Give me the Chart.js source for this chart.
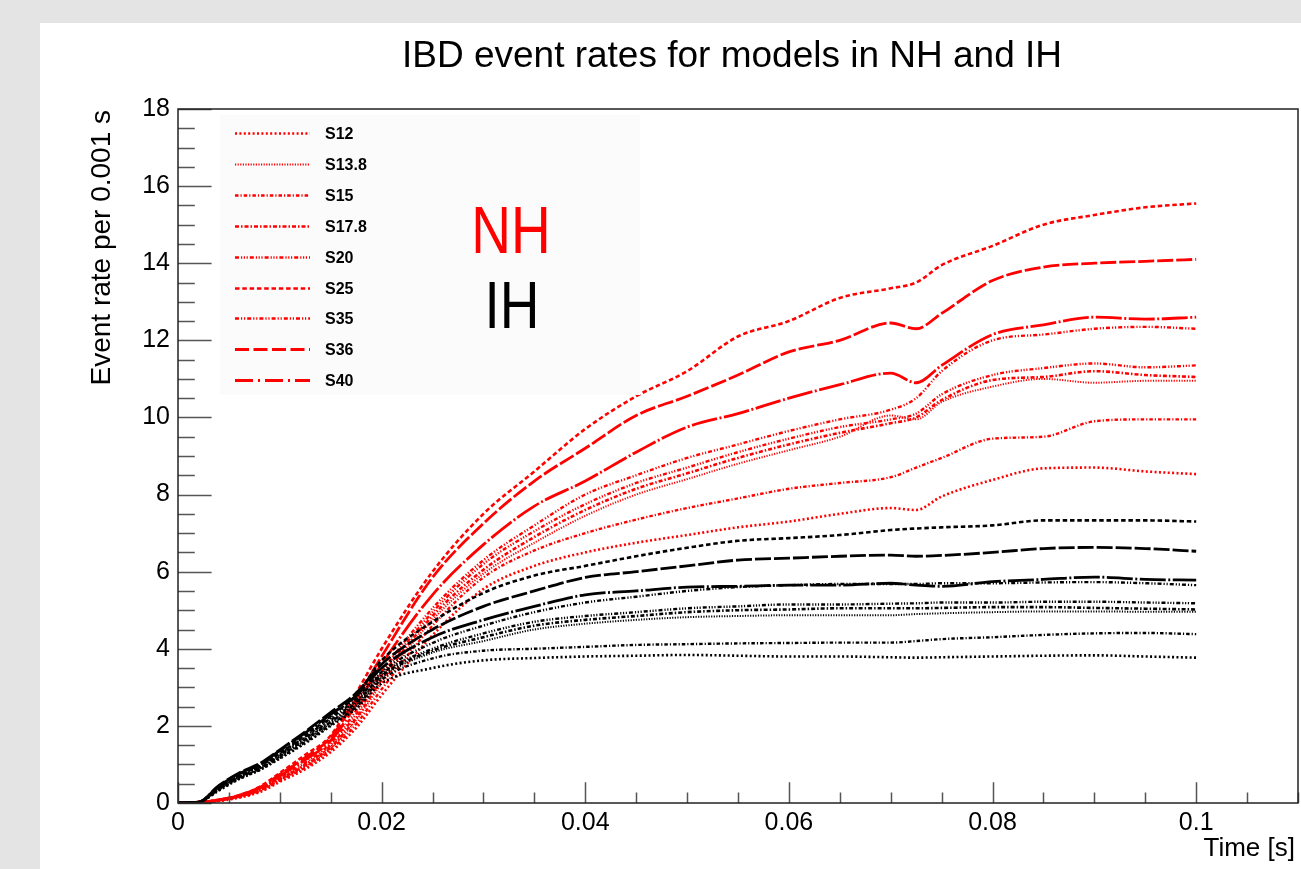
<!DOCTYPE html>
<html>
<head>
<meta charset="utf-8">
<script src="https://cdn.jsdelivr.net/npm/chart.js@4.4.0/dist/chart.umd.min.js"></script>
<style>
  html, body { margin: 0; padding: 0; background: #e4e4e4; }
  #wrap { position: absolute; left: 40px; top: 23px; width: 1261px; height: 846px; background: #fff; }
</style>
</head>
<body>
<div id="wrap"><canvas id="rateChart"></canvas></div>
<script>
// time axis (s) shared by all models
const timeS = [0, 0.002, 0.004, 0.006, 0.008, 0.01, 0.0125, 0.015, 0.0175, 0.02, 0.025, 0.03, 0.035, 0.04,
    0.045, 0.05, 0.055, 0.06, 0.065, 0.07, 0.0725, 0.075, 0.08, 0.085, 0.09, 0.095, 0.1];

const xTickVals = [0, 0.02, 0.04, 0.06, 0.08, 0.1];
const yTickVals = [0, 2, 4, 6, 8, 10, 12, 14, 16, 18];
const models = ['S12', 'S13.8', 'S15', 'S17.8', 'S20', 'S25', 'S35', 'S36', 'S40'];

// NH event rates per 0.001 s
const nhS12  = [0, 0.02, 0.05, 0.14, 0.28, 0.55, 0.88, 1.32, 1.95, 2.8, 4.35, 5.55, 6.15, 6.5, 6.75, 6.95, 7.15, 7.3, 7.5, 7.65, 7.6, 7.95, 8.38, 8.68, 8.7, 8.6, 8.53];
const nhS138 = [0, 0.02, 0.06, 0.16, 0.32, 0.6, 0.95, 1.42, 2.15, 3.1, 4.75, 5.95, 6.75, 7.45, 8.0, 8.4, 8.8, 9.15, 9.5, 10.05, 9.95, 10.4, 10.8, 11.0, 10.9, 10.95, 10.95];
const nhS15  = [0, 0.02, 0.06, 0.15, 0.3, 0.58, 0.92, 1.38, 2.05, 2.95, 4.6, 5.85, 6.55, 7.0, 7.35, 7.65, 7.9, 8.15, 8.3, 8.45, 8.7, 8.95, 9.45, 9.5, 9.9, 9.95, 9.95];
const nhS178 = [0, 0.02, 0.07, 0.17, 0.33, 0.62, 0.98, 1.45, 2.2, 3.2, 4.85, 6.05, 6.9, 7.6, 8.15, 8.55, 8.95, 9.3, 9.6, 9.85, 10.0, 10.45, 10.97, 11.05, 11.2, 11.1, 11.05];
const nhS20  = [0, 0.02, 0.07, 0.17, 0.34, 0.63, 1.0, 1.5, 2.3, 3.3, 4.95, 6.2, 7.05, 7.75, 8.3, 8.7, 9.1, 9.45, 9.75, 9.95, 10.1, 10.6, 11.1, 11.28, 11.4, 11.3, 11.35];
const nhS25  = [0, 0.02, 0.08, 0.2, 0.42, 0.78, 1.25, 1.75, 2.85, 4.0, 6.0, 7.5, 8.6, 9.7, 10.55, 11.2, 12.1, 12.5, 13.1, 13.35, 13.5, 13.95, 14.45, 15.0, 15.25, 15.45, 15.55];
const nhS35  = [0, 0.02, 0.07, 0.18, 0.36, 0.66, 1.05, 1.55, 2.4, 3.4, 5.05, 6.3, 7.2, 8.0, 8.5, 8.95, 9.3, 9.65, 9.95, 10.2, 10.5, 11.2, 12.0, 12.15, 12.3, 12.35, 12.3];
const nhS36  = [0, 0.02, 0.08, 0.2, 0.4, 0.74, 1.18, 1.7, 2.7, 3.8, 5.85, 7.25, 8.35, 9.2, 10.05, 10.55, 11.1, 11.7, 12.0, 12.45, 12.3, 12.7, 13.55, 13.9, 14.0, 14.05, 14.1];
const nhS40  = [0, 0.02, 0.08, 0.19, 0.38, 0.7, 1.12, 1.62, 2.55, 3.6, 5.4, 6.7, 7.7, 8.35, 9.1, 9.75, 10.1, 10.5, 10.85, 11.15, 10.9, 11.35, 12.15, 12.4, 12.6, 12.55, 12.6];

// IH event rates per 0.001 s
const ihS12  = [0, 0.02, 0.32, 0.62, 0.85, 1.15, 1.55, 2.0, 2.45, 3.1, 3.5, 3.7, 3.76, 3.8, 3.82, 3.84, 3.82, 3.8, 3.8, 3.78, 3.77, 3.78, 3.8, 3.82, 3.83, 3.8, 3.77];
const ihS138 = [0, 0.02, 0.35, 0.65, 0.88, 1.2, 1.62, 2.08, 2.55, 3.25, 3.9, 4.2, 4.5, 4.65, 4.75, 4.82, 4.85, 4.87, 4.87, 4.87, 4.9, 4.92, 4.95, 4.97, 4.97, 4.96, 4.96];
const ihS15  = [0, 0.02, 0.34, 0.63, 0.86, 1.17, 1.58, 2.03, 2.5, 3.2, 3.75, 3.95, 4.0, 4.05, 4.1, 4.12, 4.14, 4.15, 4.16, 4.16, 4.2, 4.25, 4.3, 4.36, 4.4, 4.41, 4.38];
const ihS178 = [0, 0.02, 0.36, 0.66, 0.9, 1.22, 1.65, 2.1, 2.6, 3.3, 3.95, 4.3, 4.6, 4.75, 4.85, 4.95, 5.0, 5.02, 5.05, 5.05, 5.05, 5.06, 5.08, 5.08, 5.06, 5.04, 5.02];
const ihS20  = [0, 0.02, 0.38, 0.68, 0.92, 1.25, 1.68, 2.15, 2.65, 3.35, 4.0, 4.4, 4.7, 4.85, 4.95, 5.05, 5.1, 5.15, 5.15, 5.17, 5.18, 5.2, 5.2, 5.22, 5.22, 5.2, 5.18];
const ihS25  = [0, 0.02, 0.4, 0.72, 0.98, 1.3, 1.75, 2.25, 2.8, 3.7, 4.7, 5.45, 5.9, 6.15, 6.4, 6.62, 6.8, 6.87, 6.95, 7.08, 7.12, 7.15, 7.2, 7.33, 7.33, 7.33, 7.3];
const ihS35  = [0, 0.02, 0.4, 0.7, 0.95, 1.28, 1.72, 2.2, 2.7, 3.4, 4.15, 4.6, 4.95, 5.2, 5.35, 5.5, 5.6, 5.65, 5.68, 5.68, 5.68, 5.7, 5.7, 5.72, 5.73, 5.7, 5.65];
const ihS36  = [0, 0.02, 0.45, 0.78, 1.02, 1.38, 1.85, 2.35, 2.85, 3.6, 4.5, 5.1, 5.5, 5.85, 6.0, 6.15, 6.3, 6.35, 6.4, 6.43, 6.4, 6.42, 6.5, 6.6, 6.63, 6.6, 6.53];
const ihS40  = [0, 0.02, 0.44, 0.76, 1.0, 1.36, 1.82, 2.3, 2.78, 3.5, 4.3, 4.75, 5.1, 5.4, 5.5, 5.6, 5.62, 5.65, 5.65, 5.7, 5.65, 5.62, 5.74, 5.8, 5.86, 5.8, 5.78];

const nhSeries = [nhS12, nhS138, nhS15, nhS178, nhS20, nhS25, nhS35, nhS36, nhS40];
const ihSeries = [ihS12, ihS138, ihS15, ihS178, ihS20, ihS25, ihS35, ihS36, ihS40];

// ROOT-like line styles, one per model (curve dash can be tighter than the legend sample)
const lineStyles = [
    { dash: [2, 2.4], curve: [2, 2.4], width: 2.6 },                 // S12 dotted
    { dash: [1.2, 1.4], curve: [1.2, 1.4], width: 2.0 },             // S13.8 fine dots
    { dash: [3.5, 2, 1.2, 2], curve: [3.5, 2, 1.2, 2], width: 2.4 }, // S15
    { dash: [4, 2, 1.5, 2], curve: [4, 2, 1.5, 2], width: 2.6 },     // S17.8
    { dash: [4, 2, 1.2, 1.6, 1.2, 1.6, 1.2, 2], curve: [4, 2, 1.2, 1.6, 1.2, 1.6, 1.2, 2], width: 2.4 }, // S20
    { dash: [4.5, 2.8], curve: [4.5, 2.8], width: 2.6 },             // S25
    { dash: [4, 2, 1.2, 1.8, 1.2, 2], curve: [4, 2, 1.2, 1.8, 1.2, 2], width: 2.4 }, // S35
    { dash: [14, 4.5], curve: [16, 3], width: 2.8 },                 // S36
    { dash: [18, 5, 2, 5], curve: [26, 2.5, 2, 2.5], width: 2.8 }    // S40
];

const FONT = '"Liberation Sans", Arial, Helvetica, sans-serif';

function toPoints(arr) {
    return timeS.map((t, i) => ({ x: t, y: arr[i] }));
}

const datasets = [];
models.forEach((m, i) => {
    datasets.push({
        label: m + ' IH',
        data: toPoints(ihSeries[i]),
        borderColor: '#000',
        borderWidth: lineStyles[i].width,
        borderDash: lineStyles[i].curve,
        pointRadius: 0,
        cubicInterpolationMode: 'monotone',
        fill: false
    });
});
models.forEach((m, i) => {
    datasets.push({
        label: m,
        data: toPoints(nhSeries[i]),
        borderColor: '#ff0000',
        borderWidth: lineStyles[i].width,
        borderDash: lineStyles[i].curve,
        pointRadius: 0,
        cubicInterpolationMode: 'monotone',
        fill: false
    });
});

// frame, inward ticks, legend and extra labels, drawn the ROOT way
const rootDecor = {
    id: 'rootDecor',
    afterDraw(chart) {
        const ctx = chart.ctx;
        const a = chart.chartArea;
        const xs = chart.scales.x, ys = chart.scales.y;
        const w = a.right - a.left, h = a.bottom - a.top;
        ctx.save();

        // ticks
        ctx.strokeStyle = '#555';
        ctx.lineWidth = 1.5;
        ctx.beginPath();
        for (let i = 0; i <= 22; i++) {
            const px = Math.round(xs.getPixelForValue(i * 0.005)) + 0.5;
            const len = (i % 4 === 0) ? 0.03 * h : 0.015 * h;
            ctx.moveTo(px, a.bottom);
            ctx.lineTo(px, a.bottom - len);
        }
        for (let j = 0; j <= 36; j++) {
            const py = Math.round(ys.getPixelForValue(j * 0.5)) + 0.5;
            const len = (j % 4 === 0) ? 0.03 * w : 0.015 * w;
            ctx.moveTo(a.left, py);
            ctx.lineTo(a.left + len, py);
        }
        ctx.stroke();

        // frame
        ctx.strokeStyle = '#222';
        ctx.lineWidth = 1.5;
        ctx.strokeRect(a.left, a.top, w, h);

        // title
        ctx.fillStyle = '#000';
        ctx.font = '37px ' + FONT;
        ctx.textAlign = 'center';
        ctx.textBaseline = 'alphabetic';
        ctx.fillText('IBD event rates for models in NH and IH', 692, 44);

        // axis titles
        ctx.font = '26px ' + FONT;
        ctx.textAlign = 'right';
        ctx.fillText('Time [s]', 1255, 833);
        ctx.save();
        ctx.translate(70, 87);
        ctx.rotate(-Math.PI / 2);
        ctx.font = '28px ' + FONT;
        ctx.textAlign = 'right';
        ctx.fillText('Event rate per 0.001 s', 0, 0);
        ctx.restore();

        // legend
        ctx.fillStyle = '#fbfbfb';
        ctx.fillRect(180, 92, 420, 280);
        ctx.font = 'bold 16px ' + FONT;
        ctx.textAlign = 'left';
        ctx.textBaseline = 'middle';
        models.forEach((m, i) => {
            const y = Math.round(110 + i * 30.9) + 0.5;
            ctx.strokeStyle = '#ff0000';
            ctx.lineWidth = lineStyles[i].width;
            ctx.setLineDash(lineStyles[i].dash);
            ctx.beginPath();
            ctx.moveTo(195, y);
            ctx.lineTo(270, y);
            ctx.stroke();
            ctx.setLineDash([]);
            ctx.fillStyle = '#000';
            ctx.fillText(m, 285, y + 1);
        });

        // NH / IH labels
        ctx.textAlign = 'center';
        ctx.textBaseline = 'alphabetic';
        ctx.font = '55px ' + FONT;
        ctx.save();
        ctx.translate(471, 230);
        ctx.scale(1, 1.2);
        ctx.fillStyle = '#ff0000';
        ctx.fillText('NH', 0, 0);
        ctx.restore();
        ctx.save();
        ctx.translate(472, 305);
        ctx.scale(1, 1.2);
        ctx.fillStyle = '#000';
        ctx.fillText('IH', 0, 0);
        ctx.restore();

        ctx.restore();
    }
};

new Chart(document.getElementById('rateChart'), {
    type: 'line',
    data: { datasets: datasets },
    options: {
        responsive: true,
        maintainAspectRatio: false,
        animation: false,
        layout: { padding: { top: 86, right: 3, left: 0, bottom: 0 } },
        plugins: {
            legend: { display: false },
            tooltip: { enabled: false },
            title: { display: false }
        },
        scales: {
            x: {
                type: 'linear',
                min: 0,
                max: 0.11,
                grid: { display: false, drawTicks: false },
                border: { display: false },
                afterBuildTicks: s => { s.ticks = xTickVals.map(v => ({ value: v })); },
                afterFit: s => { s.height = 66; },
                ticks: {
                    color: '#000',
                    padding: 5,
                    maxRotation: 0,
                    autoSkip: false,
                    font: { family: FONT, size: 25 },
                    callback: v => (v === 0 ? '0' : String(+v.toFixed(2)))
                }
            },
            y: {
                type: 'linear',
                min: 0,
                max: 18,
                grid: { display: false, drawTicks: false },
                border: { display: false },
                afterBuildTicks: s => { s.ticks = yTickVals.map(v => ({ value: v })); },
                afterFit: s => { s.width = 138; },
                ticks: {
                    color: '#000',
                    padding: 8,
                    autoSkip: false,
                    font: { family: FONT, size: 25 }
                }
            }
        }
    },
    plugins: [rootDecor]
});
</script>
</body>
</html>
